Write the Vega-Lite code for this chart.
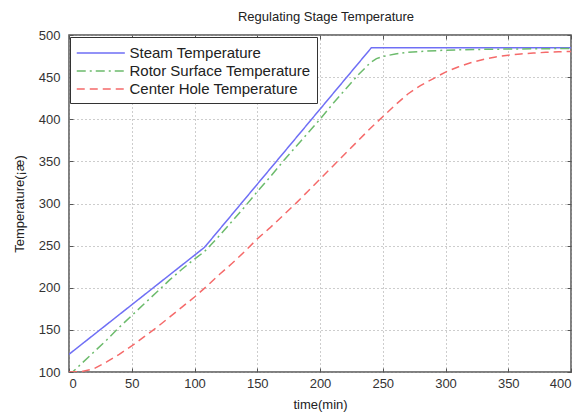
{
  "$schema": "https://vega.github.io/schema/vega-lite/v6.json",
  "width": 502,
  "height": 337,
  "autosize": "none",
  "padding": {"left": 69, "top": 35, "right": 13, "bottom": 42},
  "background": "white",
  "title": {"text": "Regulating Stage Temperature", "font": "Liberation Sans", "fontSize": 13, "fontWeight": "normal", "color": "#222", "anchor": "middle", "offset": 5, "dx": 6},
  "config": {
    "view": {"stroke": "#555", "strokeWidth": 1.5},
    "axis": {"labelFont": "Liberation Sans", "labelFontSize": 13, "labelColor": "#333", "labelOverlap": false, "titleFont": "Liberation Sans", "titleFontSize": 13, "titleFontWeight": "normal", "titleColor": "#222", "domain": false, "tickColor": "#555", "tickSize": -4, "gridColor": "#9a9a9a", "gridDash": [1, 3], "gridOpacity": 1},
    "legend": {"labelFont": "Liberation Sans", "labelFontSize": 15, "labelColor": "#222", "labelLimit": 400, "symbolType": "M-1,0H4.2", "symbolSize": 342, "symbolStrokeWidth": 1.5, "strokeColor": "#333", "fillColor": "white", "padding": 6, "rowPadding": -1, "labelOffset": 33.5, "orient": "none", "legendX": 1, "legendY": 2}
  },
  "data": {"values": [
    {"series": "Steam Temperature", "t": 0, "temp": 121},
    {"series": "Steam Temperature", "t": 108, "temp": 248},
    {"series": "Steam Temperature", "t": 241, "temp": 485},
    {"series": "Steam Temperature", "t": 400, "temp": 485},
    {"series": "Rotor Surface Temperature", "t": 0, "temp": 96},
    {"series": "Rotor Surface Temperature", "t": 10, "temp": 110},
    {"series": "Rotor Surface Temperature", "t": 20, "temp": 124},
    {"series": "Rotor Surface Temperature", "t": 30, "temp": 138},
    {"series": "Rotor Surface Temperature", "t": 40, "temp": 153},
    {"series": "Rotor Surface Temperature", "t": 50, "temp": 167},
    {"series": "Rotor Surface Temperature", "t": 60, "temp": 181},
    {"series": "Rotor Surface Temperature", "t": 70, "temp": 195},
    {"series": "Rotor Surface Temperature", "t": 80, "temp": 209},
    {"series": "Rotor Surface Temperature", "t": 90, "temp": 222},
    {"series": "Rotor Surface Temperature", "t": 100, "temp": 234},
    {"series": "Rotor Surface Temperature", "t": 108, "temp": 243},
    {"series": "Rotor Surface Temperature", "t": 120, "temp": 262},
    {"series": "Rotor Surface Temperature", "t": 130, "temp": 279},
    {"series": "Rotor Surface Temperature", "t": 140, "temp": 296},
    {"series": "Rotor Surface Temperature", "t": 150, "temp": 314},
    {"series": "Rotor Surface Temperature", "t": 160, "temp": 331},
    {"series": "Rotor Surface Temperature", "t": 170, "temp": 349},
    {"series": "Rotor Surface Temperature", "t": 180, "temp": 366},
    {"series": "Rotor Surface Temperature", "t": 190, "temp": 383},
    {"series": "Rotor Surface Temperature", "t": 200, "temp": 400},
    {"series": "Rotor Surface Temperature", "t": 210, "temp": 418},
    {"series": "Rotor Surface Temperature", "t": 220, "temp": 435},
    {"series": "Rotor Surface Temperature", "t": 230, "temp": 452},
    {"series": "Rotor Surface Temperature", "t": 240, "temp": 467},
    {"series": "Rotor Surface Temperature", "t": 245, "temp": 472},
    {"series": "Rotor Surface Temperature", "t": 250, "temp": 474.5},
    {"series": "Rotor Surface Temperature", "t": 260, "temp": 477.5},
    {"series": "Rotor Surface Temperature", "t": 270, "temp": 479.5},
    {"series": "Rotor Surface Temperature", "t": 280, "temp": 480.5},
    {"series": "Rotor Surface Temperature", "t": 300, "temp": 482},
    {"series": "Rotor Surface Temperature", "t": 330, "temp": 483},
    {"series": "Rotor Surface Temperature", "t": 360, "temp": 483.5},
    {"series": "Rotor Surface Temperature", "t": 400, "temp": 484},
    {"series": "Center Hole Temperature", "t": 0, "temp": 100},
    {"series": "Center Hole Temperature", "t": 10, "temp": 100.5},
    {"series": "Center Hole Temperature", "t": 20, "temp": 104},
    {"series": "Center Hole Temperature", "t": 30, "temp": 112},
    {"series": "Center Hole Temperature", "t": 40, "temp": 121},
    {"series": "Center Hole Temperature", "t": 50, "temp": 131},
    {"series": "Center Hole Temperature", "t": 60, "temp": 142},
    {"series": "Center Hole Temperature", "t": 70, "temp": 153},
    {"series": "Center Hole Temperature", "t": 80, "temp": 165},
    {"series": "Center Hole Temperature", "t": 90, "temp": 177},
    {"series": "Center Hole Temperature", "t": 100, "temp": 189},
    {"series": "Center Hole Temperature", "t": 110, "temp": 202},
    {"series": "Center Hole Temperature", "t": 120, "temp": 216},
    {"series": "Center Hole Temperature", "t": 130, "temp": 229},
    {"series": "Center Hole Temperature", "t": 140, "temp": 243},
    {"series": "Center Hole Temperature", "t": 150, "temp": 258},
    {"series": "Center Hole Temperature", "t": 160, "temp": 271},
    {"series": "Center Hole Temperature", "t": 170, "temp": 285},
    {"series": "Center Hole Temperature", "t": 180, "temp": 299},
    {"series": "Center Hole Temperature", "t": 190, "temp": 314},
    {"series": "Center Hole Temperature", "t": 200, "temp": 329},
    {"series": "Center Hole Temperature", "t": 210, "temp": 344},
    {"series": "Center Hole Temperature", "t": 220, "temp": 359},
    {"series": "Center Hole Temperature", "t": 230, "temp": 374},
    {"series": "Center Hole Temperature", "t": 240, "temp": 389},
    {"series": "Center Hole Temperature", "t": 250, "temp": 403},
    {"series": "Center Hole Temperature", "t": 260, "temp": 417},
    {"series": "Center Hole Temperature", "t": 270, "temp": 430},
    {"series": "Center Hole Temperature", "t": 280, "temp": 440},
    {"series": "Center Hole Temperature", "t": 290, "temp": 448},
    {"series": "Center Hole Temperature", "t": 300, "temp": 456},
    {"series": "Center Hole Temperature", "t": 310, "temp": 462},
    {"series": "Center Hole Temperature", "t": 320, "temp": 467},
    {"series": "Center Hole Temperature", "t": 330, "temp": 471},
    {"series": "Center Hole Temperature", "t": 340, "temp": 474},
    {"series": "Center Hole Temperature", "t": 350, "temp": 476},
    {"series": "Center Hole Temperature", "t": 360, "temp": 477.5},
    {"series": "Center Hole Temperature", "t": 370, "temp": 478.5},
    {"series": "Center Hole Temperature", "t": 380, "temp": 479.5},
    {"series": "Center Hole Temperature", "t": 390, "temp": 480},
    {"series": "Center Hole Temperature", "t": 400, "temp": 480.5}
  ]},
  "layer": [
    {
      "mark": {"type": "line", "clip": true, "strokeWidth": 1.5},
      "encoding": {
        "x": {"field": "t", "type": "quantitative", "scale": {"domain": [0, 400], "nice": false}, "axis": {"title": "time(min)", "values": [0,50,100,150,200,250,300,350,400], "labelPadding": 9, "titlePadding": 8}},
        "y": {"field": "temp", "type": "quantitative", "scale": {"domain": [100, 500], "nice": false, "zero": false}, "axis": {"title": "Temperature(¡æ)", "values": [100,150,200,250,300,350,400,450,500], "labelPadding": 13, "titlePadding": 12}},
        "color": {"field": "series", "type": "nominal", "sort": null, "scale": {"domain": ["Steam Temperature", "Rotor Surface Temperature", "Center Hole Temperature"], "range": ["#6f6ff5", "#6cbb6c", "#f56a6a"]}, "legend": {"title": null}},
        "strokeDash": {"field": "series", "type": "nominal", "sort": null, "scale": {"domain": ["Steam Temperature", "Rotor Surface Temperature", "Center Hole Temperature"], "range": [[1, 0], [9, 4, 2, 4], [8, 5]]}, "legend": {"title": null}},
        "order": {"field": "t", "type": "quantitative"}
      }
    },
    {
      "mark": {"type": "point", "opacity": 0},
      "encoding": {
        "x": {"field": "t", "type": "quantitative", "axis": {"orient": "top", "labels": false, "grid": false, "title": null, "values": [0,50,100,150,200,250,300,350,400]}},
        "y": {"field": "temp", "type": "quantitative", "axis": {"orient": "right", "labels": false, "grid": false, "title": null, "values": [100,150,200,250,300,350,400,450,500]}}
      }
    }
  ],
  "resolve": {"axis": {"x": "independent", "y": "independent"}}
}
